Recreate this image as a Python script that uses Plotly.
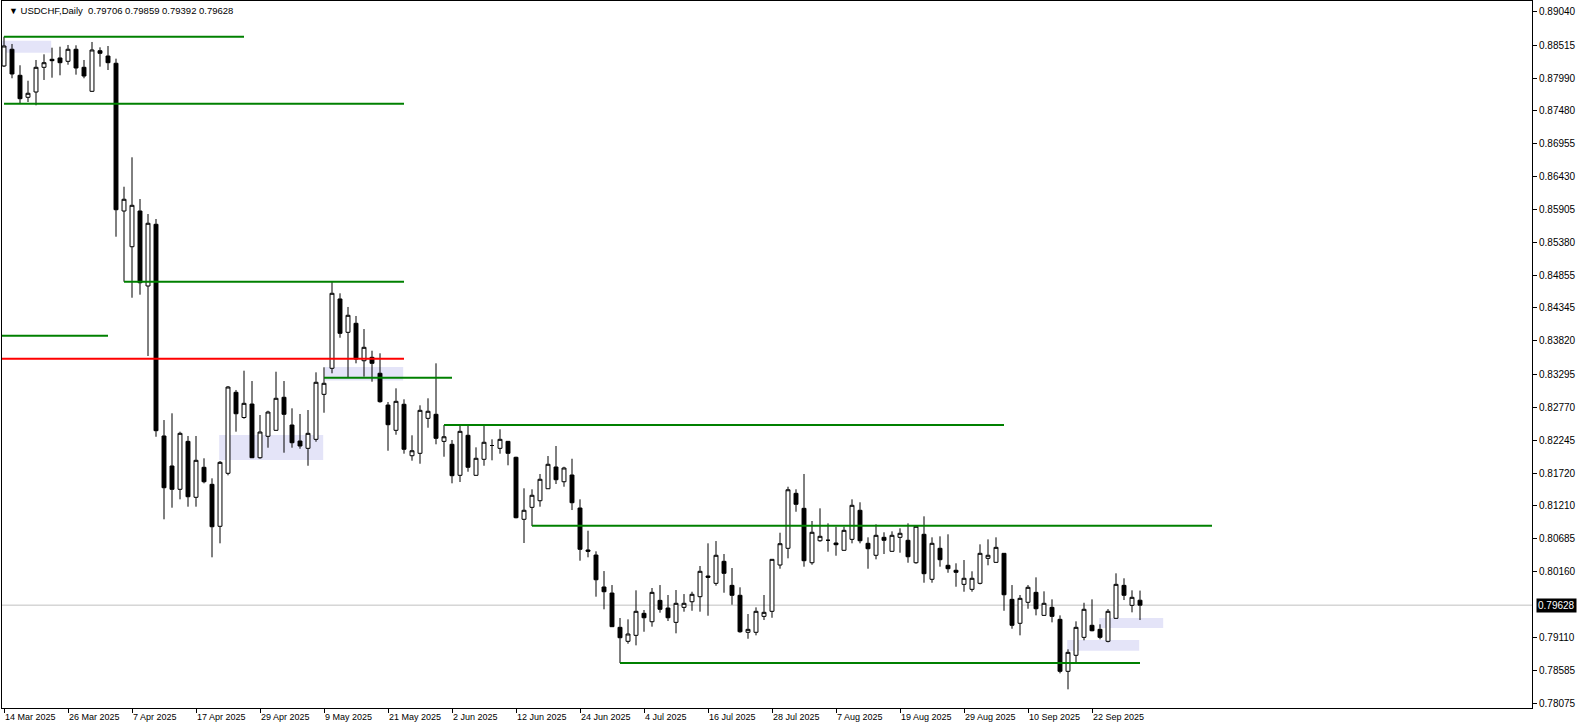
import plotly.graph_objects as go

# ---- data (USDCHF daily, 14 Mar 2025 .. 30 Sep 2025) ----
open_ = [0.88183,0.88448,0.88035,0.87686,0.87770,0.88162,0.88289,0.88310,0.88257,0.88448,
         0.88162,0.87781,0.88425,0.88341,0.88226,0.85882,0.85315,0.85882,0.84692,0.85671,
         0.82312,0.81836,0.81466,0.82227,0.81339,0.81815,0.81545,0.80879,0.81720,0.83005,
         0.82605,0.82819,0.81967,0.82307,0.82402,0.82926,0.82486,0.82232,0.82116,0.82259,
         0.82973,0.83386,0.84486,0.83957,0.84100,0.83506,0.83560,0.83307,0.82803,0.82402,
         0.82815,0.81999,0.82037,0.82592,0.82656,0.82227,0.82180,0.81688,0.82323,0.81688,
         0.81942,0.82161,0.82116,0.82227,0.81974,0.80990,0.81180,0.81285,0.81475,0.81820,
         0.81586,0.81693,0.81169,0.80503,0.80423,0.79916,0.79820,0.79276,0.79054,0.79149,
         0.79498,0.79365,0.79704,0.79582,0.79355,0.79593,0.79682,0.79762,0.80090,0.79974,
         0.80323,0.79942,0.79784,0.79197,0.79197,0.79450,0.79530,0.80265,0.80530,0.81402,
         0.81164,0.80301,0.80650,0.80657,0.80614,0.80498,0.80672,0.81133,0.80609,0.80419,
         0.80704,0.80482,0.80704,0.80657,0.80301,0.80752,0.80038,0.80530,0.80260,0.80181,
         0.79958,0.79879,0.79974,0.80371,0.80307,0.80450,0.79720,0.79340,0.79673,0.79831,
         0.79466,0.79593,0.79403,0.78578,0.78832,0.79117,0.79308,0.79244,0.79054,0.79419,
         0.79942,0.79625,0.79706]
high_ = [0.88648,0.88532,0.88194,0.87949,0.88278,0.88368,0.88473,0.88489,0.88516,0.88511,
         0.88278,0.88564,0.88479,0.88500,0.88299,0.86267,0.86734,0.86072,0.85834,0.85755,
         0.82565,0.82672,0.82380,0.82312,0.82312,0.81958,0.81640,0.81915,0.83105,0.83042,
         0.83348,0.83184,0.82645,0.82713,0.83332,0.83184,0.82751,0.82661,0.82724,0.83322,
         0.83402,0.84771,0.84576,0.84359,0.84216,0.84009,0.83665,0.83624,0.82851,0.83068,
         0.82894,0.82323,0.82799,0.82910,0.83465,0.82486,0.82248,0.82481,0.82481,0.82132,
         0.82475,0.82259,0.82418,0.82232,0.81983,0.81482,0.81466,0.81709,0.81994,0.82153,
         0.81824,0.81951,0.81307,0.80809,0.80482,0.80169,0.79947,0.79424,0.79403,0.79863,
         0.79551,0.79900,0.79947,0.79789,0.79868,0.79804,0.79841,0.80249,0.80609,0.80645,
         0.80439,0.80217,0.79911,0.79487,0.79593,0.79789,0.80360,0.80777,0.81507,0.81466,
         0.81709,0.80963,0.81164,0.80926,0.80872,0.80872,0.81307,0.81260,0.80704,0.80910,
         0.80784,0.80799,0.80847,0.80926,0.80895,0.81037,0.80704,0.80720,0.80752,0.80292,
         0.80344,0.80165,0.80593,0.80672,0.80704,0.80455,0.79947,0.79789,0.79947,0.80069,
         0.79847,0.79720,0.79466,0.78927,0.79371,0.79666,0.79720,0.79324,0.79566,0.80133,
         0.80054,0.79863,0.79859]
low_ = [0.88167,0.87988,0.87591,0.87611,0.87559,0.87961,0.87997,0.88035,0.88203,0.88045,
        0.87988,0.87770,0.88172,0.88119,0.85474,0.84760,0.84506,0.84554,0.83581,0.82300,
        0.80990,0.81174,0.81307,0.81190,0.81190,0.81561,0.80387,0.80609,0.81688,0.82380,
        0.82586,0.81962,0.81951,0.82126,0.82396,0.82047,0.82126,0.82110,0.81840,0.82221,
        0.82681,0.83307,0.83871,0.83237,0.83465,0.83253,0.83173,0.82840,0.82078,0.82332,
        0.82031,0.81920,0.81872,0.82443,0.82180,0.81983,0.81561,0.81582,0.81745,0.81682,
        0.81840,0.81926,0.82031,0.81847,0.81006,0.80614,0.80883,0.81190,0.81471,0.81550,
        0.81507,0.81137,0.80333,0.80387,0.79762,0.79562,0.79281,0.78710,0.79016,0.78990,
        0.79206,0.79286,0.79508,0.79376,0.79181,0.79524,0.79539,0.79524,0.79460,0.79936,
        0.79825,0.79635,0.79190,0.79095,0.79149,0.79392,0.79428,0.80206,0.80371,0.81110,
        0.80238,0.80269,0.80634,0.80476,0.80412,0.80492,0.80609,0.80609,0.80206,0.80355,
        0.80439,0.80476,0.80460,0.80301,0.80285,0.79984,0.79984,0.80238,0.80142,0.79920,
        0.79841,0.79841,0.79958,0.80260,0.80301,0.79539,0.79254,0.79149,0.79571,0.79466,
        0.79460,0.79355,0.78546,0.78292,0.78705,0.79070,0.79213,0.79086,0.79038,0.79413,
        0.79709,0.79514,0.79392]
close_ = [0.88500,0.88056,0.87664,0.87750,0.88162,0.88235,0.88267,0.88235,0.88448,0.88151,
          0.88024,0.88437,0.88384,0.88235,0.85902,0.86068,0.85972,0.84744,0.85687,0.82396,
          0.81491,0.81466,0.82354,0.81348,0.81926,0.81586,0.80872,0.81894,0.83089,0.82665,
          0.82830,0.81967,0.82375,0.82692,0.82910,0.82656,0.82205,0.82153,0.82354,0.83164,
          0.83148,0.84576,0.83941,0.84227,0.83533,0.83719,0.83465,0.82856,0.82491,0.82862,
          0.82101,0.82078,0.82719,0.82704,0.82275,0.82300,0.81682,0.82386,0.81815,0.81958,
          0.82212,0.82161,0.82259,0.82037,0.81015,0.81133,0.81371,0.81625,0.81863,0.81618,
          0.81804,0.81253,0.80514,0.80482,0.80031,0.79841,0.79286,0.79111,0.79170,0.79530,
          0.79428,0.79831,0.79562,0.79428,0.79657,0.79657,0.79800,0.80165,0.80069,0.80419,
          0.80133,0.79784,0.79206,0.79244,0.79530,0.79514,0.80355,0.80603,0.81459,0.81228,
          0.80333,0.80784,0.80720,0.80657,0.80587,0.80815,0.81212,0.80650,0.80523,0.80736,
          0.80657,0.80736,0.80768,0.80396,0.80879,0.80127,0.80609,0.80349,0.80206,0.80149,
          0.80054,0.80054,0.80450,0.80419,0.80545,0.79793,0.79308,0.79736,0.79911,0.79571,
          0.79657,0.79450,0.78578,0.78879,0.79276,0.79562,0.79222,0.79117,0.79530,0.79958,
          0.79784,0.79752,0.79628]
bar_idx = list(range(len(open_)))

date_tick_idx = [0, 8, 16, 24, 32, 40, 48, 56, 64, 72, 80, 88, 96, 104, 112, 120, 128, 136]
date_tick_text = ["14 Mar 2025", "26 Mar 2025", "7 Apr 2025", "17 Apr 2025", "29 Apr 2025",
                  "9 May 2025", "21 May 2025", "2 Jun 2025", "12 Jun 2025", "24 Jun 2025",
                  "4 Jul 2025", "16 Jul 2025", "28 Jul 2025", "7 Aug 2025", "19 Aug 2025",
                  "29 Aug 2025", "10 Sep 2025", "22 Sep 2025"]
price_ticks = [0.89040, 0.88515, 0.87990, 0.87480, 0.86955, 0.86430, 0.85905, 0.85380,
               0.84855, 0.84345, 0.83820, 0.83295, 0.82770, 0.82245, 0.81720, 0.81210,
               0.80685, 0.80160, 0.79110, 0.78585, 0.78075]

# drawn levels (price, first bar, last bar)
green_price = [0.88648, 0.87585, 0.84760, 0.83903, 0.83237, 0.82486, 0.80888, 0.78710]
green_start = [0, 0, 15, -0.25, 40, 55, 66, 77]
green_end = [30, 50, 50, 13, 56, 125, 151, 142]
red_price = [0.83538]
red_start = [-0.25]
red_end = [50]
# zones
box_x0 = [-0.25, 26.9, 40.1, 132.9, 136.9]
box_x1 = [5.9, 39.9, 49.9, 141.9, 144.9]
box_lo = [0.88394, 0.81931, 0.83192, 0.78905, 0.79265]
box_hi = [0.88584, 0.82327, 0.83407, 0.79075, 0.79424]

last_price = close_[-1]
title_text = "USDCHF,Daily\u00a0\u00a00.79706 0.79859 0.79392 0.79628"

FONT = "Liberation Sans, Arial, sans-serif"

fig = go.Figure()
fig.add_trace(go.Candlestick(
    x=bar_idx, open=open_, high=high_, low=low_, close=close_,
    increasing=dict(line=dict(color="black", width=1), fillcolor="white"),
    decreasing=dict(line=dict(color="black", width=1), fillcolor="black"),
    whiskerwidth=0, showlegend=False, hoverinfo="x+y"))

shapes = []
for x0, x1, lo, hi in zip(box_x0, box_x1, box_lo, box_hi):
    shapes.append(dict(type="rect", xref="x", yref="y", x0=x0, x1=x1, y0=lo, y1=hi,
                       fillcolor="#E4E4F8", line=dict(width=0), layer="below"))
shapes.append(dict(type="line", xref="paper", yref="y", x0=0, x1=1, y0=last_price, y1=last_price,
                   line=dict(color="#C0C0C0", width=1), layer="below"))
for p, s, e in zip(green_price, green_start, green_end):
    shapes.append(dict(type="line", xref="x", yref="y", x0=s, x1=e, y0=p, y1=p,
                       line=dict(color="#008000", width=2), layer="above"))
for p, s, e in zip(red_price, red_start, red_end):
    shapes.append(dict(type="line", xref="x", yref="y", x0=s, x1=e, y0=p, y1=p,
                       line=dict(color="#FF0000", width=2), layer="above"))

annotations = [
    dict(xref="paper", yref="paper", x=0, y=1, xanchor="left", yanchor="top",
         xshift=5, yshift=-2, showarrow=False, align="left",
         text="<span style='font-size:9px'>\u25BC</span> " + title_text,
         font=dict(family=FONT, size=9.5, color="black")),
    dict(xref="paper", yref="y", x=1, y=last_price, xanchor="left", yanchor="middle",
         xshift=4, showarrow=False, text="%.5f" % last_price, bgcolor="black",
         borderpad=1, font=dict(family=FONT, size=10, color="white")),
]

fig.update_layout(
    width=1578, height=728,
    margin=dict(l=2, r=46, t=1, b=20),
    paper_bgcolor="white", plot_bgcolor="white",
    shapes=shapes, annotations=annotations,
    xaxis=dict(range=[-0.25, 191], tickmode="array", tickvals=date_tick_idx,
               ticktext=date_tick_text, ticks="outside", ticklen=4, tickcolor="black",
               ticklabelposition="outside right",
               showline=True, linecolor="black", linewidth=1, mirror=True,
               showgrid=False, zeroline=False, rangeslider=dict(visible=False),
               tickfont=dict(family=FONT, size=9, color="black")),
    yaxis=dict(range=[0.77996, 0.89214], side="right", tickmode="array",
               tickvals=price_ticks, ticktext=["%.5f" % v for v in price_ticks],
               ticks="outside", ticklen=4, tickcolor="black",
               showline=True, linecolor="black", linewidth=1, mirror=True,
               showgrid=False, zeroline=False,
               tickfont=dict(family=FONT, size=10, color="black")),
)

fig.write_html("out.html")
